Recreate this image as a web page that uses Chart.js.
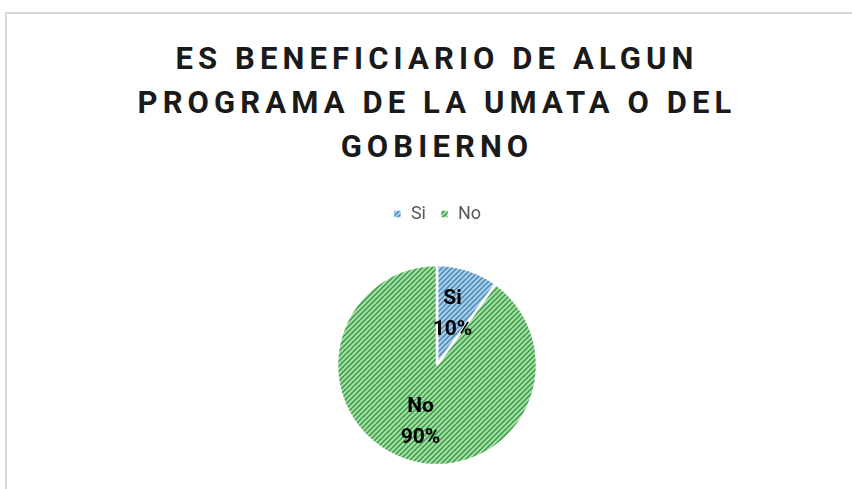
<!DOCTYPE html>
<html><head><meta charset="utf-8">
<script src="https://cdn.jsdelivr.net/npm/chart.js@4.4.0/dist/chart.umd.min.js"></script>
<style>
html,body{margin:0;padding:0;width:852px;height:489px;overflow:hidden;background:#fff;}
#frame{position:absolute;left:5px;top:12px;width:900px;height:600px;border-left:2px solid #d9d9d9;border-top:2px solid #d9d9d9;}
#title{position:absolute;left:0;top:37px;width:874px;text-align:center;font-family:Roboto,"Liberation Sans",sans-serif;font-weight:700;font-size:31px;letter-spacing:5.1px;line-height:44px;color:#1a1a1a;}
#wrap{position:absolute;left:0;top:0;width:852px;height:497px;}
</style></head><body>
<div id="frame"></div>
<div id="title">ES BENEFICIARIO DE ALGUN<br>PROGRAMA DE LA UMATA O DEL<br>GOBIERNO</div>
<div id="wrap"><canvas id="c" width="852" height="497"></canvas></div>
<script>
const categories = ["Si", "No"];
const values = [10, 90];
const percentLabels = ["10%", "90%"];

function hatch(bg, fg){
  const s = 5;
  const t = document.createElement('canvas'); t.width = s; t.height = s;
  const g = t.getContext('2d');
  g.fillStyle = bg; g.fillRect(0,0,s,s);
  g.strokeStyle = fg; g.lineWidth = 1.5;
  g.beginPath();
  g.moveTo(-1,s+1); g.lineTo(s+1,-1);
  g.moveTo(-1,1); g.lineTo(1,-1);
  g.moveTo(s-1,s+1); g.lineTo(s+1,s-1);
  g.stroke();
  return g.createPattern(t,'repeat');
}
const ctx0 = document.getElementById('c').getContext('2d');
const fills = [hatch('#a9d0e8','#4a88b8'), hatch('#a6dfa6','#3a9a46')];

const labelPlugin = {
  id:'sliceLabels',
  afterDatasetsDraw(chart){
    const ctx = chart.ctx;
    const meta = chart.getDatasetMeta(0);
    const offs = [[0,-4],[-1,9]];
    meta.data.forEach((arc,i)=>{
      const p = arc.tooltipPosition();
      const x = p.x + offs[i][0], y = p.y + offs[i][1];
      ctx.save();
      ctx.fillStyle = '#000';
      ctx.font = '700 21px Roboto, "Liberation Sans", sans-serif';
      ctx.textAlign = 'center'; ctx.textBaseline = 'middle';
      ctx.fillText(categories[i], x, y-15);
      ctx.fillText(percentLabels[i], x, y+16);
      ctx.restore();
    });
  }
};

new Chart(ctx0, {
  type:'pie',
  data:{labels:categories, datasets:[{data:values, backgroundColor:fills, borderColor:'#ffffff', borderWidth:2.5}]},
  options:{
    responsive:false, animation:false,
    radius:100,
    layout:{padding:{left:22, top:191, right:0, bottom:0}},
    plugins:{
      title:{display:false},
      tooltip:{enabled:false},
      legend:{display:true, position:'top',
        labels:{boxWidth:9, boxHeight:9, padding:14, color:'#595959',
          font:{family:'Roboto, "Liberation Sans", sans-serif', size:18}}}
    }
  },
  plugins:[labelPlugin]
});
</script>
</body></html>
